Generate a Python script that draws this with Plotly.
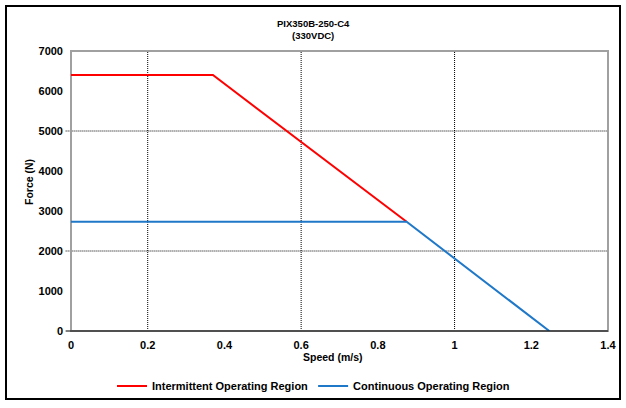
import plotly.graph_objects as go

# Data
intermittent_speed = [0.0, 0.37, 0.875]
intermittent_force = [6400, 6400, 2730]
continuous_speed = [0.0, 0.875, 1.247]
continuous_force = [2730, 2730, 0]

x_ticks = [0, 0.2, 0.4, 0.6, 0.8, 1, 1.2, 1.4]
y_ticks = [0, 1000, 2000, 3000, 4000, 5000, 6000, 7000]
x_grid = [0.2, 0.6, 1.0]
y_grid = [2000, 5000]

FONT = "Liberation Sans, Arial, sans-serif"

# plot-area geometry in page pixels
L, R, T, B = 71, 608, 51, 331
PW, PH = R - L, B - T


def px(xp):
    return (xp - L) / PW


def py(yp):
    return (B - yp) / PH


fig = go.Figure()
fig.add_trace(go.Scatter(x=intermittent_speed, y=intermittent_force, mode="lines",
                         name="<b>Intermittent Operating Region</b>",
                         line=dict(color="#ff0000", width=2)))
fig.add_trace(go.Scatter(x=continuous_speed, y=continuous_force, mode="lines",
                         name="<b>Continuous Operating Region</b>",
                         line=dict(color="#1f78c8", width=2)))

shapes = []
for gx in x_grid:
    shapes.append(dict(type="line", xref="x", yref="y domain", x0=gx, x1=gx, y0=0, y1=1,
                       line=dict(color="#000000", width=1, dash="1px,1px"), layer="below"))
for gy in y_grid:
    shapes.append(dict(type="line", xref="x domain", yref="y", x0=-0.01, x1=1, y0=gy, y1=gy,
                       line=dict(color="#000000", width=1, dash="1px,1px"), layer="below"))
# plot area border (gray)
shapes.append(dict(type="rect", xref="x domain", yref="y domain", x0=0, x1=1, y0=0, y1=1,
                   line=dict(color="#a0a0a0", width=2), layer="below"))
# bottom axis line
shapes.append(dict(type="line", xref="x domain", yref="y domain", x0=-0.01, x1=1, y0=0, y1=0,
                   line=dict(color="#000000", width=1)))
# outer frame
shapes.append(dict(type="rect", xref="paper", yref="paper",
                   x0=px(6), x1=px(620), y0=py(399), y1=py(6),
                   line=dict(color="#000000", width=2), fillcolor="rgba(0,0,0,0)"))

annotations = [
    dict(text="<b>PIX350B-250-C4<br>(330VDC)</b>", xref="paper", yref="paper",
         x=px(313), y=py(16), xanchor="center", yanchor="top", showarrow=False,
         font=dict(size=9.5)),
    dict(text="<b>Speed (m/s)</b>", xref="paper", yref="paper",
         x=px(333), y=py(357), xanchor="center", yanchor="middle", showarrow=False,
         font=dict(size=10.5)),
    dict(text="<b>Force (N)</b>", xref="paper", yref="paper", textangle=-90,
         x=px(29), y=py(182), xanchor="center", yanchor="middle", showarrow=False,
         font=dict(size=10.5)),
]

fig.update_layout(
    width=626, height=408,
    margin=dict(l=L, r=626 - R, t=T, b=408 - B, autoexpand=False),
    paper_bgcolor="white", plot_bgcolor="white",
    font=dict(family=FONT, size=11, color="#000000"),
    xaxis=dict(range=[0, 1.4], tickvals=x_ticks, ticktext=[f"<b>{t:g}</b>" for t in x_ticks],
               showgrid=False, zeroline=False, showline=False,
               ticks="", automargin=False, ticklabelstandoff=6),
    yaxis=dict(range=[0, 7000], tickvals=y_ticks, ticktext=[f"<b>{t}</b>" for t in y_ticks],
               showgrid=False, zeroline=False, showline=False, automargin=False,
               ticks="", ticklabelstandoff=7),
    legend=dict(orientation="h", x=px(112), xanchor="left", y=py(386), yanchor="middle",
                font=dict(size=11), bgcolor="rgba(0,0,0,0)"),
    shapes=shapes,
    annotations=annotations,
    showlegend=True,
)

fig.write_html("out.html", config={"displayModeBar": False},
               post_script="document.body.style.margin='0';")
